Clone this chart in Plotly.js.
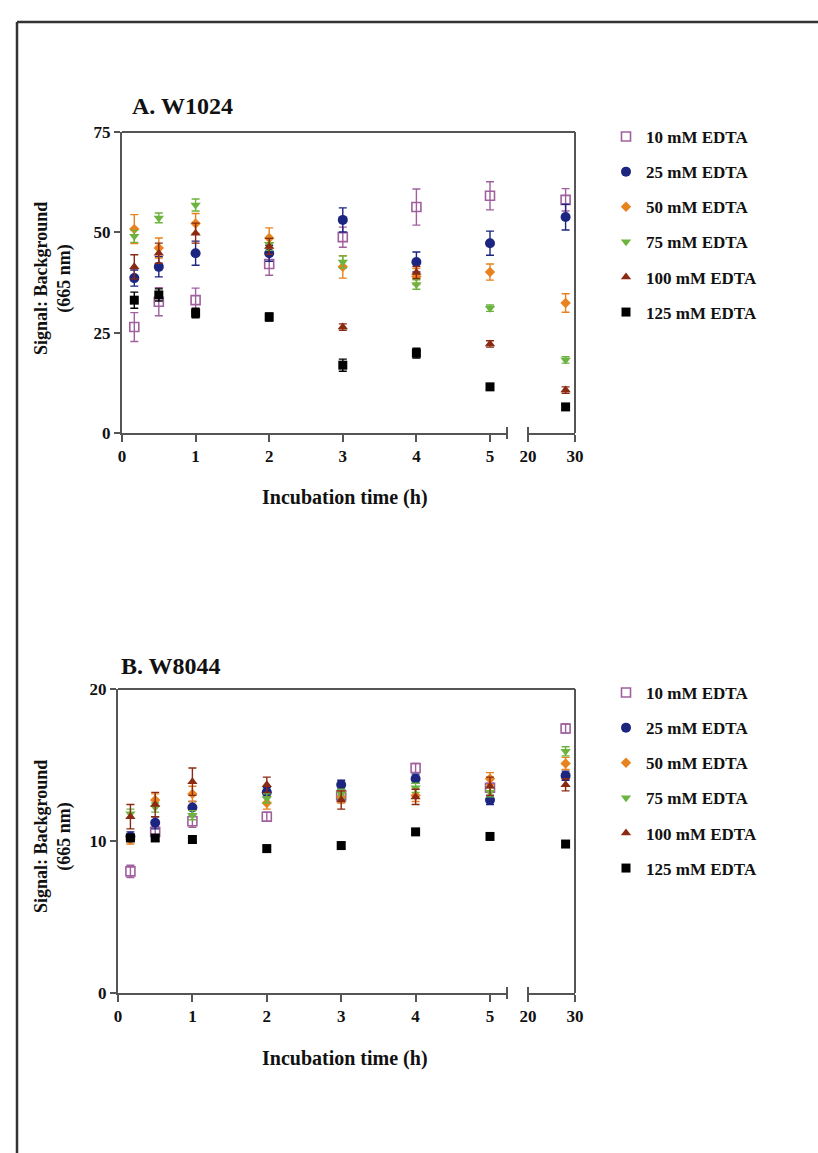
<!DOCTYPE html>
<html>
<head>
<meta charset="utf-8">
<script src="https://cdn.plot.ly/plotly-3.0.1.min.js"></script>
<style>html,body{margin:0;padding:0;background:#fff;}#chart{width:818px;height:1153px;}</style>
</head>
<body>
<div id="chart"></div>
<script>
// ---------- data ----------
const seriesNames = ["10 mM EDTA", "25 mM EDTA", "50 mM EDTA", "75 mM EDTA", "100 mM EDTA", "125 mM EDTA"];
const timesEarly = [0.167, 0.5, 1, 2, 3, 4, 5];
const timesLate = [28];
const xTicksEarly = [0, 1, 2, 3, 4, 5];
const xTicksLate = [20, 30];
const yTicksA = [0, 25, 50, 75];
const yTicksB = [0, 10, 20];

// Panel A: W1024 (values at timesEarly then timesLate)
const a10  = [26.4, 32.7, 33.1, 42.1, 48.8, 56.3, 59.1, 58.1];
const a25  = [38.6, 41.4, 44.8, 44.8, 53.1, 42.6, 47.3, 53.8];
const a50  = [50.8, 46.1, 52.2, 48.6, 41.4, 39.0, 40.1, 32.4];
const a75  = [49.0, 53.6, 56.8, 47.0, 42.6, 37.0, 31.1, 18.2];
const a100 = [41.4, 44.8, 49.8, 46.5, 26.4, 40.0, 22.2, 10.7];
const a125 = [33.1, 34.4, 29.9, 28.9, 16.9, 19.9, 11.5, 6.5];
const a10e  = [3.6, 3.5, 3.0, 2.8, 2.5, 4.5, 3.5, 2.8];
const a25e  = [2.0, 2.5, 3.0, 2.0, 3.0, 2.5, 3.0, 3.2];
const a50e  = [3.6, 2.5, 2.5, 2.5, 2.8, 2.0, 2.0, 2.3];
const a75e  = [1.5, 1.2, 1.5, 1.5, 1.5, 1.2, 0.8, 0.8];
const a100e = [3.0, 2.5, 2.5, 2.0, 0.8, 1.5, 0.8, 0.8];
const a125e = [2.0, 1.5, 1.2, 1.0, 1.5, 1.2, 0.8, 0.8];

// Panel B: W8044
const b10  = [8.0, 10.6, 11.3, 11.6, 13.0, 14.8, 13.5, 17.4];
const b25  = [10.3, 11.2, 12.2, 13.2, 13.7, 14.1, 12.7, 14.3];
const b50  = [10.1, 12.7, 13.1, 12.5, 12.9, 13.0, 14.1, 15.1];
const b75  = [11.8, 12.2, 11.7, 12.8, 13.1, 13.5, 13.2, 15.9];
const b100 = [11.6, 12.4, 13.9, 13.7, 12.7, 12.9, 13.6, 13.7];
const b125 = [10.2, 10.2, 10.1, 9.5, 9.7, 10.6, 10.3, 9.8];
const b10e  = [0.4, 0.3, 0.4, 0.3, 0.3, 0.3, 0.3, 0.3];
const b25e  = [0.3, 0.4, 0.4, 0.3, 0.3, 0.3, 0.3, 0.3];
const b50e  = [0.3, 0.4, 0.5, 0.4, 0.4, 0.4, 0.4, 0.4];
const b75e  = [0.3, 0.3, 0.3, 0.3, 0.3, 0.3, 0.3, 0.3];
const b100e = [0.8, 0.8, 0.9, 0.5, 0.6, 0.5, 0.6, 0.4];
const b125e = [0.2, 0.2, 0.2, 0.2, 0.2, 0.2, 0.2, 0.2];

// ---------- styles ----------
const colors = ["#a0609e", "#1c2580", "#e8821e", "#6cb33f", "#8a2a12", "#000000"];
const symbols = ["square-open", "circle", "diamond", "triangle-down", "triangle-up", "square"];
const sizes = [9, 10, 8, 9, 9, 9];

const W = 818, H = 1153;
const fx = p => p / W;
const fy = p => 1 - p / H;
const serif = "Liberation Serif, Times New Roman, serif";
const axisColor = "#555";

const dataA = [a10, a25, a50, a75, a100, a125];
const errA = [a10e, a25e, a50e, a75e, a100e, a125e];
const dataB = [b10, b25, b50, b75, b100, b125];
const errB = [b10e, b25e, b50e, b75e, b100e, b125e];

const traces = [];
function addPanel(vals, errs, xE, xL, yax, legendName) {
  const nE = timesEarly.length;
  vals.forEach((v, i) => {
    const common = {
      mode: "markers", type: "scatter", yaxis: yax,
      marker: {symbol: symbols[i], color: colors[i], size: sizes[i], line: {color: colors[i], width: symbols[i] === "square-open" ? 1.6 : 0}},
      name: seriesNames[i], legend: legendName, legendgroup: legendName + i,
      hoverinfo: "skip"
    };
    traces.push(Object.assign({}, common, {
      x: timesEarly, y: v.slice(0, nE), xaxis: xE,
      error_y: {type: "data", array: errs[i].slice(0, nE), visible: true, color: colors[i], thickness: 1.4, width: 4}
    }));
    traces.push(Object.assign({}, common, {
      x: timesLate, y: v.slice(nE), xaxis: xL, showlegend: false,
      error_y: {type: "data", array: errs[i].slice(nE), visible: true, color: colors[i], thickness: 1.4, width: 4}
    }));
  });
}
addPanel(dataA, errA, "x", "x2", "y", "legend");
addPanel(dataB, errB, "x3", "x4", "y2", "legend2");

const tickFont = {family: serif, size: 17, color: "#111", weight: "bold"};
function xAxis(dom, range, ticks, anchor) {
  return {domain: dom, range: range, anchor: anchor, tickmode: "array", tickvals: ticks, ticktext: ticks.map(String),
    showline: true, linecolor: axisColor, linewidth: 2, ticks: "outside", ticklen: 7, tickwidth: 2, tickcolor: axisColor,
    showgrid: false, zeroline: false, tickfont: tickFont, fixedrange: true};
}
function yAxis(dom, range, ticks, anchor) {
  return {domain: dom, range: range, anchor: anchor, tickmode: "array", tickvals: ticks, ticktext: ticks.map(String),
    showline: true, linecolor: axisColor, linewidth: 2, ticks: "outside", ticklen: 6, tickwidth: 2, tickcolor: axisColor,
    showgrid: false, zeroline: false, tickfont: tickFont, fixedrange: true};
}

// pixel geometry
const A = {left: 122, brk1: 507, brk2: 528, right: 575, top: 132, bottom: 433};
const B = {left: 118, brk1: 507, brk2: 528, right: 575, top: 689, bottom: 993};
const rangeEndA = 5 * (A.brk1 - A.left) / (490 - A.left);
const rangeEndB = 5 * (B.brk1 - B.left) / (490 - B.left);

function line(x0, y0, x1, y1, color, w) {
  return {type: "line", xref: "paper", yref: "paper", x0: fx(x0), y0: fy(y0), x1: fx(x1), y1: fy(y1), line: {color: color, width: w}};
}
const shapes = [];
[A, B].forEach(P => {
  shapes.push(line(P.left, P.top, P.right, P.top, axisColor, 2));
  shapes.push(line(P.right, P.top, P.right, P.bottom, axisColor, 2));
  shapes.push(line(P.brk1, P.bottom - 6, P.brk1, P.bottom + 6, axisColor, 2));
  shapes.push(line(P.brk2, P.bottom - 6, P.brk2, P.bottom + 6, axisColor, 2));
});
// outer frame
shapes.push(line(17, 22, 818, 22, "#333", 2.5));
shapes.push(line(17, 22, 17, 1153, "#333", 2.5));

const annFont = {family: serif, color: "#111", weight: "bold"};
function ann(text, x, y, size, opts) {
  return Object.assign({text: text, xref: "paper", yref: "paper", x: fx(x), y: fy(y), showarrow: false,
    font: Object.assign({}, annFont, {size: size})}, opts || {});
}
const annotations = [
  ann("A. W1024", 130, 106, 24, {xanchor: "left", yanchor: "middle"}),
  ann("B. W8044", 119, 666, 24, {xanchor: "left", yanchor: "middle"}),
  ann("Incubation time (h)", 345, 497, 20, {xanchor: "center", yanchor: "middle"}),
  ann("Incubation time (h)", 345, 1058, 20, {xanchor: "center", yanchor: "middle"}),
  ann("Signal: Background<br>(665 nm)", 53, 278, 18, {xanchor: "center", yanchor: "middle", textangle: -90}),
  ann("Signal: Background<br>(665 nm)", 53, 836, 18, {xanchor: "center", yanchor: "middle", textangle: -90})
];

const legendBase = {font: {family: serif, size: 17, color: "#111", weight: "bold"}, xanchor: "left", yanchor: "top",
  bgcolor: "rgba(0,0,0,0)", borderwidth: 0, tracegroupgap: 10, traceorder: "grouped", itemclick: false, itemdoubleclick: false};

const layout = {
  width: W, height: H, margin: {l: 0, r: 0, t: 0, b: 0},
  paper_bgcolor: "#fff", plot_bgcolor: "rgba(0,0,0,0)",
  xaxis: xAxis([fx(A.left), fx(A.brk1)], [0, rangeEndA], xTicksEarly, "y"),
  xaxis2: xAxis([fx(A.brk2), fx(A.right)], [20, 30], xTicksLate, "y"),
  yaxis: yAxis([fy(A.bottom), fy(A.top)], [0, 75], yTicksA, "x"),
  xaxis3: xAxis([fx(B.left), fx(B.brk1)], [0, rangeEndB], xTicksEarly, "y2"),
  xaxis4: xAxis([fx(B.brk2), fx(B.right)], [20, 30], xTicksLate, "y2"),
  yaxis2: yAxis([fy(B.bottom), fy(B.top)], [0, 20], yTicksB, "x3"),
  legend: Object.assign({}, legendBase, {x: fx(606), y: fy(119)}),
  legend2: Object.assign({}, legendBase, {x: fx(606), y: fy(675)}),
  shapes: shapes,
  annotations: annotations,
  showlegend: true
};

Plotly.newPlot("chart", traces, layout, {staticPlot: true, displayModeBar: false});
</script>
</body>
</html>
